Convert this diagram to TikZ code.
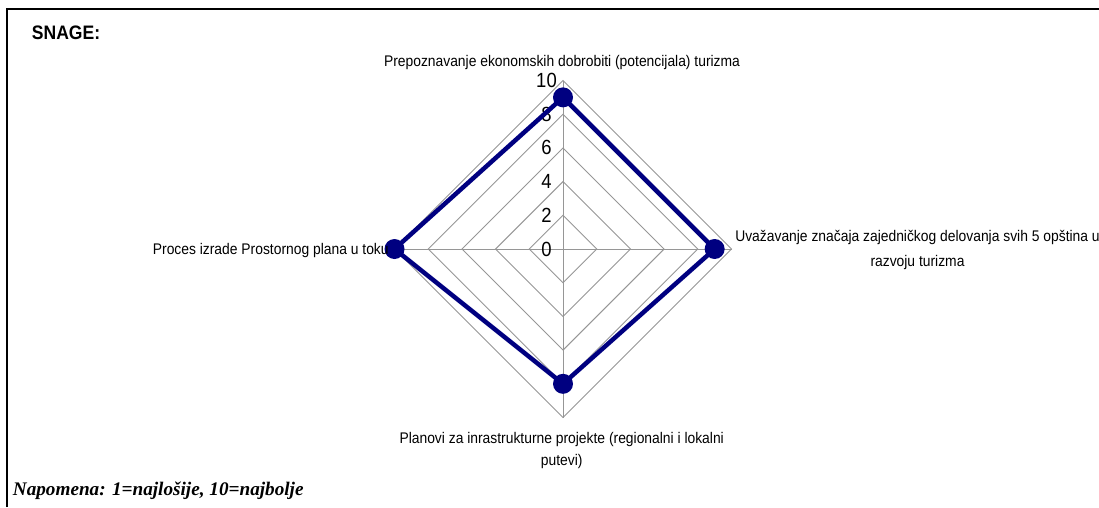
\documentclass[tikz,border=0pt]{standalone}
\usepackage{fontspec}
\setmainfont{Liberation Sans}
\newfontfamily\axisfont[FakeStretch=0.9]{Liberation Sans}
\newfontfamily\notefont{Liberation Serif}

\definecolor{gridgray}{RGB}{150,150,150}
\definecolor{seriesnavy}{RGB}{0,0,128}

\tikzset{
  gridline/.style={draw=gridgray, line width=0.9pt},
  frameline/.style={draw=black, line width=1.3pt},
  series/.style={draw=seriesnavy, line width=4.5pt, line join=round},
  marker/.style={circle, fill=seriesnavy, inner sep=0pt, minimum size=20pt},
  ticklabel/.style={font=\axisfont\fontsize{20.5}{24}\selectfont, inner sep=0pt, anchor=center},
  axislabel/.style={font=\axisfont\fontsize{15.4}{18}\selectfont, inner sep=0pt},
  titlelabel/.style={font=\axisfont\bfseries\fontsize{19.5}{22}\selectfont, inner sep=0pt, anchor=base west},
  notelabel/.style={font=\notefont\bfseries\itshape\fontsize{19.2}{22}\selectfont, inner sep=0pt, anchor=base west}
}

\begin{document}
\begin{tikzpicture}[x=1pt,y=-1pt]
\useasboundingbox (0,0) rectangle (1099,507);
\def\cx{563}
\def\cy{249}
\def\u{16.85}

% frame corner
\draw[frameline] (7,507) -- (7,9) -- (1099,9);

% concentric diamonds
\foreach \r in {2,4,6,8,10}{
  \draw[gridline] ({\cx-\r*\u},\cy) -- (\cx,{\cy-\r*\u}) -- ({\cx+\r*\u},\cy) -- (\cx,{\cy+\r*\u}) -- cycle;
}
% spokes
\coordinate (axT) at (\cx,{\cy-10*\u});
\coordinate (axB) at (\cx,{\cy+10*\u});
\coordinate (axL) at ({\cx-10*\u},\cy);
\coordinate (axR) at ({\cx+10*\u},\cy);
\draw[gridline] (axT) -- (axB);
\draw[gridline] (axL) -- (axR);

% scale values
\foreach \v in {0,2,4,6,8,10}{
  \node[ticklabel] (tick\v) at (546.5,{\cy-\v*\u}) {\v};
}

% data series: 9, 9, 8, 10
\coordinate (d1) at (\cx,{\cy-9*\u});
\coordinate (d2) at ({\cx+9*\u},\cy);
\coordinate (d3) at (\cx,{\cy+8*\u});
\coordinate (d4) at ({\cx-10*\u},\cy);
\draw[series] (d1) -- (d2) -- (d3) -- (d4) -- cycle;
\node[marker] (m1) at (d1) {};
\node[marker] (m2) at (d2) {};
\node[marker] (m3) at (d3) {};
\node[marker] (m4) at (d4) {};

% category labels (multi-line labels are placed by the baseline of their last line)
\node[axislabel, anchor=base] (lblTop) at (562,66)
  {Prepoznavanje ekonomskih dobrobiti (potencijala) turizma};
\node[axislabel, anchor=base, align=center, font=\axisfont\fontsize{15.4}{25}\selectfont] (lblRight) at (917.5,266.7)
  {Uvažavanje značaja zajedničkog delovanja svih 5 opština u\\razvoju turizma};
\node[axislabel, anchor=base, align=center, font=\axisfont\fontsize{15.4}{22}\selectfont] (lblBottom) at (561.7,465)
  {Planovi za inrastrukturne projekte (regionalni i lokalni\\putevi)};
\node[axislabel, anchor=base west] (lblLeft) at (152.7,254)
  {Proces izrade Prostornog plana u toku};

% heading and note
\node[titlelabel] (title) at (31.7,39.3) {SNAGE:};
\node[notelabel] (note) at (12.7,495) {Napomena: 1=najlošije, 10=najbolje};
\end{tikzpicture}
\end{document}
